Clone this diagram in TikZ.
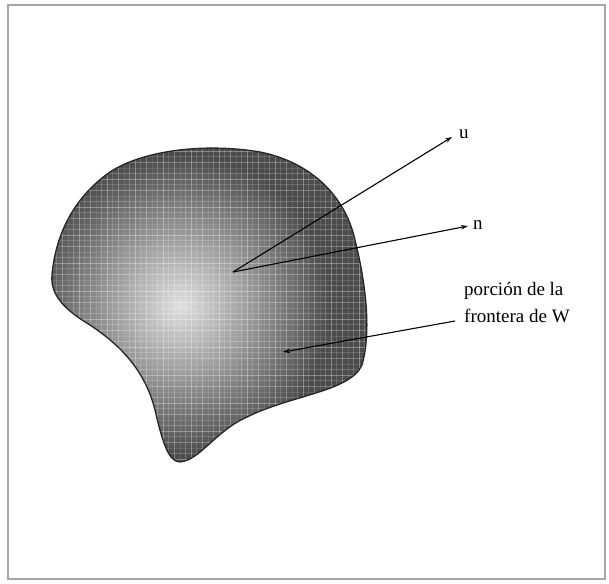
\documentclass[tikz,border=0pt]{standalone}
\usepackage{fontspec}
\setmainfont{Liberation Serif}
\usetikzlibrary{arrows.meta}
\tikzset{
  vec/.style={line width=1.1pt,-{Stealth[length=7pt,width=4.5pt]}},
  lbl/.style={font=\fontsize{19}{27}\selectfont,inner sep=0pt,anchor=west},
}
\begin{document}
\begin{tikzpicture}[x=1pt,y=-1pt]
\useasboundingbox (0,0) rectangle (609,583);
\fill[white] (0,0) rectangle (609,583);
\draw[gray!70,line width=1.2pt] (8,5) rectangle (605,579);
% blob outline
\def\blob{(52,275) .. controls (55,240) and (70,200) .. (110,172)
  .. controls (140,152) and (200,142) .. (260,152)
  .. controls (310,162) and (345,195) .. (355,240)
  .. controls (365,280) and (372,330) .. (362,365)
  .. controls (350,392) and (290,395) .. (245,418)
  .. controls (215,432) and (200,460) .. (180,462)
  .. controls (168,462) and (162,440) .. (155,410)
  .. controls (145,370) and (120,345) .. (90,325)
  .. controls (65,310) and (50,295) .. (52,275) -- cycle}
\begin{scope}
  \clip \blob;
  \fill[gray!60!black] (40,130) rectangle (390,480);
  \shade[inner color=gray!25, outer color=gray!60!black] (180,305) circle (150);
  \foreach \i in {0,...,60}{
    \pgfmathsetmacro{\op}{0.10+0.22*mod(\i*7,5)/4}
    \draw[white,opacity=\op,line width=0.8pt] (40+\i*5.6,130) -- (40+\i*5.6,480);
    \draw[white,opacity=\op,line width=0.8pt] (40,140+\i*5.6) -- (390,140+\i*5.6);
  }
\end{scope}
\draw[line width=1.3pt,black!85] \blob;
% vectors
\coordinate (o) at (233,272);
\coordinate (ue) at (452,137);
\coordinate (ne) at (468,226);
\coordinate (pe) at (283,352);
\coordinate (ps) at (455,321);
\node[lbl] (u) at (459,134) {u};
\node[lbl] (n) at (473,225) {n};
\node[lbl,anchor=north west,align=left] (txt) at (464,282) {porción de la\\frontera de W};
\draw[vec] (o) -- (ue);
\draw[vec] (o) -- (ne);
\draw[vec] (ps) -- (pe);
\end{tikzpicture}
\end{document}
